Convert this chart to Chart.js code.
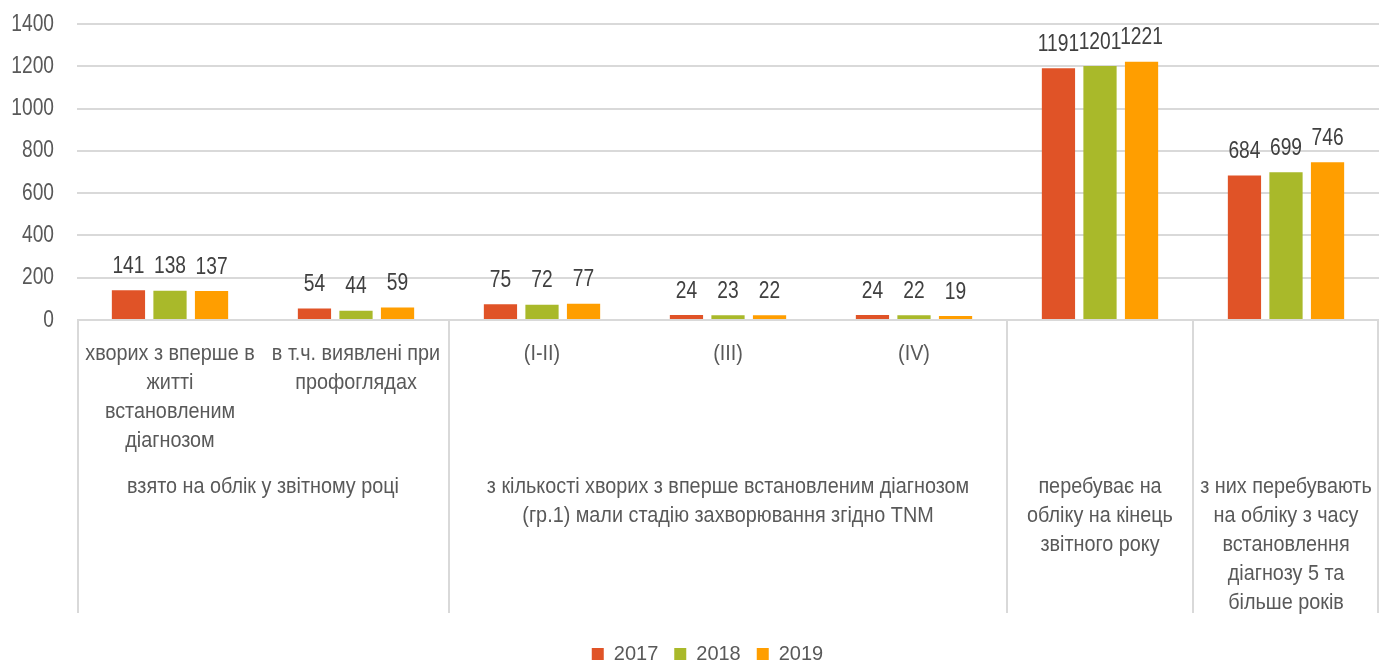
<!DOCTYPE html>
<html>
<head>
<meta charset="utf-8">
<script src="https://cdn.jsdelivr.net/npm/chart.js@4/dist/chart.umd.min.js"></script>
<style>
html,body{margin:0;padding:0;background:#fff;}
#wrap{width:1380px;height:661px;position:relative;}
</style>
</head>
<body>
<div id="wrap"><canvas id="c" width="1380" height="661"></canvas></div>
<script>
const categories = [
  ["хворих з вперше в", "житті", "встановленим", "діагнозом"],
  ["в т.ч. виявлені при", "профоглядах"],
  ["(I-II)"],
  ["(III)"],
  ["(IV)"],
  [""],
  [""]
];
const groupLabels = [
  ["взято на облік у звітному році"],
  ["з кількості хворих з вперше встановленим діагнозом", "(гр.1) мали стадію захворювання згідно TNM"],
  ["перебуває на", "обліку на кінець", "звітного року"],
  ["з них перебувають", "на обліку з часу", "встановлення", "діагнозу 5 та", "більше років"]
];
const groupSpans = [[0, 1], [2, 4], [5, 5], [6, 6]];
const seriesNames = ["2017", "2018", "2019"];
const values2017 = [141, 54, 75, 24, 24, 1191, 684];
const values2018 = [138, 44, 72, 23, 22, 1201, 699];
const values2019 = [137, 59, 77, 22, 19, 1221, 746];
const yTicks = [0, 200, 400, 600, 800, 1000, 1200, 1400];

const colors = ["#E05327", "#A9B92A", "#FF9E00"];
const FONT = "'Liberation Sans', Arial, sans-serif";
const TXT = "#595959";

function squeezeText(ctx, text, x, y, sx, align) {
  ctx.save();
  ctx.translate(x, y);
  ctx.scale(sx, 1);
  ctx.textAlign = align || "center";
  ctx.fillText(text, 0, 0);
  ctx.restore();
}

const labelsPlugin = {
  id: "custom",
  afterDatasetsDraw(chart) {
    const ctx = chart.ctx;
    ctx.save();
    ctx.font = "24px " + FONT;
    ctx.fillStyle = "#404040";
    ctx.textBaseline = "middle";
    chart.data.datasets.forEach((ds, di) => {
      const meta = chart.getDatasetMeta(di);
      meta.data.forEach((bar, i) => {
        squeezeText(ctx, String(ds.data[i]), bar.x, bar.y - 24, 0.8);
      });
    });
    ctx.restore();
  },
  afterDraw(chart) {
    const ctx = chart.ctx;
    const xs = chart.scales.x;
    const ys = chart.scales.y;
    const area = chart.chartArea;
    const half = (xs.getPixelForValue(1) - xs.getPixelForValue(0)) / 2;
    ctx.save();
    // y tick labels
    ctx.font = "24px " + FONT;
    ctx.fillStyle = TXT;
    ctx.textBaseline = "middle";
    ys.ticks.forEach(t => {
      squeezeText(ctx, String(t.value), area.left - 23, ys.getPixelForValue(t.value), 0.8, "right");
    });
    // separators
    ctx.strokeStyle = "#d9d9d9";
    ctx.lineWidth = 2;
    const bounds = [xs.getPixelForValue(0) - half];
    groupSpans.forEach(s => bounds.push(xs.getPixelForValue(s[1]) + half));
    bounds.forEach(b => {
      const bx = Math.min(Math.max(b, area.left + 1), area.right - 1);
      ctx.beginPath();
      ctx.moveTo(bx, area.bottom);
      ctx.lineTo(bx, area.bottom + 293);
      ctx.stroke();
    });
    ctx.font = "22px " + FONT;
    ctx.fillStyle = TXT;
    ctx.textBaseline = "middle";
    const lh = 29;
    categories.forEach((lines, i) => {
      const x = xs.getPixelForValue(i);
      lines.forEach((t, k) => squeezeText(ctx, t, x, area.bottom + 34 + k * lh, 0.9));
    });
    groupLabels.forEach((lines, g) => {
      const s = groupSpans[g];
      const x = (xs.getPixelForValue(s[0]) + xs.getPixelForValue(s[1])) / 2;
      lines.forEach((t, k) => squeezeText(ctx, t, x, area.bottom + 167 + k * lh, 0.9));
    });
    ctx.restore();
  }
};

new Chart(document.getElementById("c"), {
  type: "bar",
  data: {
    labels: categories,
    datasets: seriesNames.map((n, i) => ({
      label: n,
      data: [values2017, values2018, values2019][i],
      backgroundColor: colors[i],
      borderWidth: 0,
      categoryPercentage: 0.67,
      barPercentage: 0.8
    }))
  },
  options: {
    responsive: false,
    animation: false,
    layout: { padding: { top: 24, right: 1, left: 36, bottom: -13 } },
    plugins: {
      legend: {
        position: "bottom",
        labels: {
          font: { family: FONT, size: 20 },
          color: TXT,
          boxWidth: 12,
          boxHeight: 12,
          padding: 16
        }
      },
      tooltip: { enabled: false }
    },
    scales: {
      x: {
        grid: { display: false },
        border: { display: false },
        ticks: { display: false },
        afterFit(scale) { scale.height = 308; }
      },
      y: {
        min: 0,
        max: 1400,
        afterBuildTicks(scale) { scale.ticks = yTicks.map(v => ({ value: v })); },
        grid: { color: "#d9d9d9", lineWidth: 2, drawTicks: false },
        border: { display: false },
        ticks: { display: false },
        afterFit(scale) { scale.width = 41; }
      }
    }
  },
  plugins: [labelsPlugin]
});
</script>
</body>
</html>
